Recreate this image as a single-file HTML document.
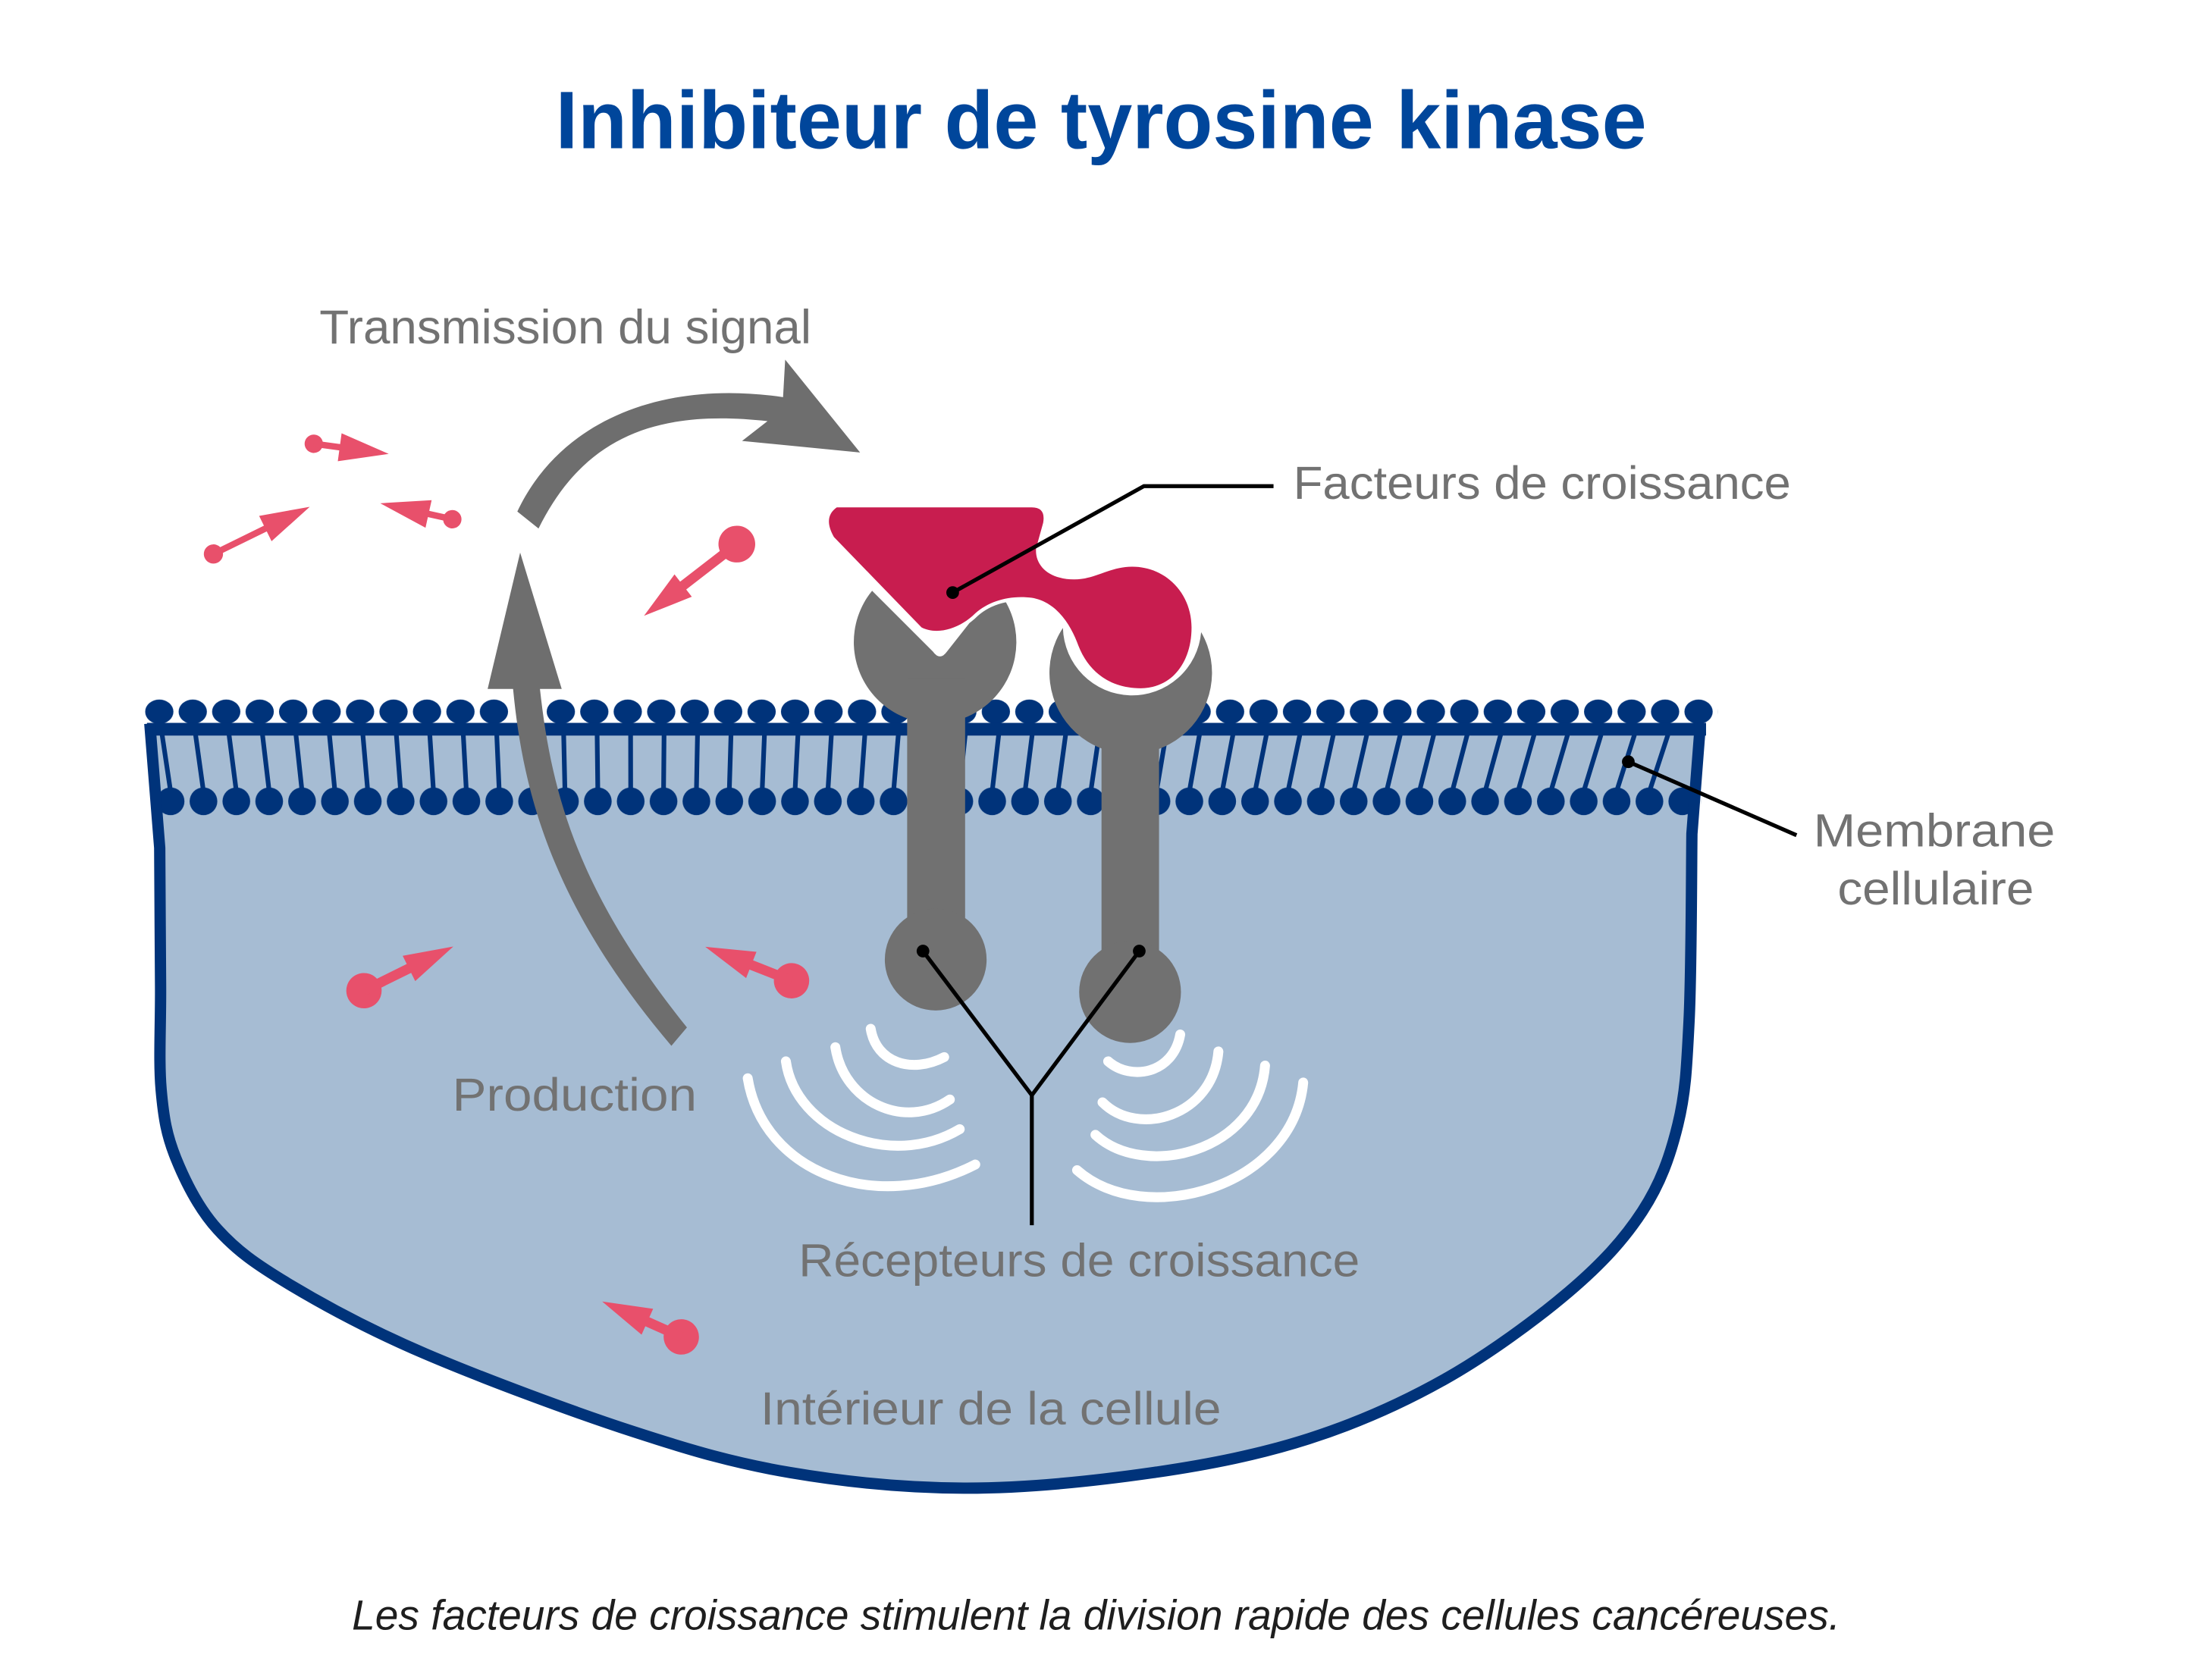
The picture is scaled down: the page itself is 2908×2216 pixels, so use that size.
<!DOCTYPE html>
<html><head><meta charset="utf-8"><style>html,body{margin:0;padding:0;background:#fff}svg{display:block}</style></head>
<body>
<svg xmlns="http://www.w3.org/2000/svg" width="2908" height="2216" viewBox="0 0 1560 1188.77" preserveAspectRatio="none">
<defs>
<pattern id="th" patternUnits="userSpaceOnUse" x="102.7" y="495" width="23.674" height="17.2"><ellipse cx="10" cy="8.6" rx="10" ry="8.6" fill="#00337a"/></pattern>
<pattern id="bh" patternUnits="userSpaceOnUse" x="110.9" y="557" width="23.25" height="20"><circle cx="9.8" cy="10" r="9.8" fill="#00337a"/></pattern>
</defs>
<rect width="1560" height="1188.77" fill="#fff"/>
<path d="M106,512 L113,600 C113.1,616.2 113.4,668.5 113.6,697 C113.8,725.5 112.2,750.5 114,771 C115.8,791.5 117.9,803.5 124.6,820 C131.3,836.5 140.6,855.2 154,870 C167.4,884.8 180.5,894.3 205,909 C229.5,923.7 260.5,940.7 301,958 C341.5,975.3 405,999 448,1013 C491,1027 519.7,1035.3 559,1042 C598.3,1048.7 641.2,1053 684,1053 C726.8,1053 775.7,1047.8 816,1042 C856.3,1036.2 891.7,1029 926,1018 C960.3,1007 991.3,993.3 1022,976 C1052.7,958.7 1086.7,933.8 1110,914 C1133.3,894.2 1149.2,876.7 1162,857 C1174.8,837.3 1181.5,818.5 1187,796 C1192.5,773.5 1193.3,756.3 1195,722 C1196.7,687.7 1196.7,612 1197,590 L1203,512 Z" fill="#a6bcd3"/>
<path d="M114.7,520L120.7,560M138.37,520L143.95,560M162.05,520L167.2,560M185.72,520L190.45,560M209.4,520L213.7,560M233.07,520L236.95,560M256.74,520L260.2,560M280.42,520L283.45,560M304.09,520L306.7,560M327.77,520L329.95,560M351.44,520L353.2,560M375.11,520L376.45,560M398.79,520L399.7,560M422.46,520L422.95,560M446.14,520L446.2,560M469.81,520L469.45,560M493.48,520L492.7,560M517.16,520L515.95,560M540.83,520L539.2,560M564.51,520L562.45,560M588.18,520L585.7,560M611.85,520L608.95,560M635.53,520L632.2,560M659.2,520L655.45,560M682.88,520L678.7,560M706.55,520L701.95,560M730.22,520L725.2,560M753.9,520L748.45,560M777.57,520L771.7,560M801.25,520L794.95,560M824.92,520L818.2,560M848.59,520L841.45,560M872.27,520L864.7,560M895.94,520L887.95,560M919.62,520L911.2,560M943.29,520L934.45,560M966.96,520L957.7,560M990.64,520L980.95,560M1014.31,520L1004.2,560M1037.99,520L1027.45,560M1061.66,520L1050.7,560M1085.33,520L1073.95,560M1109.01,520L1097.2,560M1132.68,520L1120.45,560M1156.36,520L1143.7,560M1180.03,520L1166.95,560" stroke="#00337a" stroke-width="3.3" fill="none"/>
<rect x="102.7" y="495" width="1112.7" height="17.2" fill="url(#th)"/>
<rect x="362" y="493" width="23" height="19" fill="#fff"/>
<rect x="104" y="511.5" width="1103" height="9" fill="#00337a"/>
<rect x="110.9" y="557" width="1092.75" height="20" fill="url(#bh)"/>
<path d="M106,512 L113,600 C113.1,616.2 113.4,668.5 113.6,697 C113.8,725.5 112.2,750.5 114,771 C115.8,791.5 117.9,803.5 124.6,820 C131.3,836.5 140.6,855.2 154,870 C167.4,884.8 180.5,894.3 205,909 C229.5,923.7 260.5,940.7 301,958 C341.5,975.3 405,999 448,1013 C491,1027 519.7,1035.3 559,1042 C598.3,1048.7 641.2,1053 684,1053 C726.8,1053 775.7,1047.8 816,1042 C856.3,1036.2 891.7,1029 926,1018 C960.3,1007 991.3,993.3 1022,976 C1052.7,958.7 1086.7,933.8 1110,914 C1133.3,894.2 1149.2,876.7 1162,857 C1174.8,837.3 1181.5,818.5 1187,796 C1192.5,773.5 1193.3,756.3 1195,722 C1196.7,687.7 1196.7,612 1197,590 L1203,512" fill="none" stroke="#00337a" stroke-width="8" stroke-linejoin="round"/>

<g fill="none" stroke="#fff" stroke-width="7" stroke-linecap="round">
<path d="M616,728 C620,752 645,760 668,748"/>
<path d="M591,741 C597,780 640,800 672,778"/>
<path d="M556,751 C563,800 630,828 679,799"/>
<path d="M529,763 C540,830 620,860 690,824"/>
<path d="M835,732 C830,760 800,765 784,751"/>
<path d="M862,744 C858,790 805,805 780,780"/>
<path d="M895,754 C890,815 810,835 775,803"/>
<path d="M922,766 C915,840 810,870 762,828"/>
</g>

<g fill="#e8506b">
<g transform="translate(222,314) rotate(7.7)"><circle r="6.5"/><rect x="0" y="-2.25" width="19" height="4.5"/><polygon points="18.5,-10 53.5,0 18.5,10"/></g>
<g transform="translate(151,392) rotate(-26.1)"><circle r="6.8"/><rect x="0" y="-2.25" width="41.5" height="4.5"/><polygon points="40.9,-10 75.9,0 40.9,10"/></g>
<g transform="translate(320,367.4) rotate(-167.5)"><circle r="6.5"/><rect x="0" y="-2.25" width="18" height="4.5"/><polygon points="17.2,-10 52.2,0 17.2,10"/></g>
<g transform="translate(521.3,385) rotate(142.3)"><circle r="13"/><rect x="0" y="-3.5" width="49" height="7"/><polygon points="48,-10 83,0 48,10"/></g>
<g transform="translate(257.5,701) rotate(-26.3)"><circle r="12.5"/><rect x="0" y="-3.5" width="36" height="7"/><polygon points="35.5,-10 70.5,0 35.5,10"/></g>
<g transform="translate(560,694) rotate(-158.5)"><circle r="12.5"/><rect x="0" y="-3.5" width="31" height="7"/><polygon points="30.6,-10 65.6,0 30.6,10"/></g>
<g transform="translate(482,946) rotate(-155.9)"><circle r="12.5"/><rect x="0" y="-3.5" width="27" height="7"/><polygon points="26.3,-10 61.3,0 26.3,10"/></g>
</g>

<path d="M345,487.5 L368,391 L397.4,487.5 L382,487.5 C390,560 408,630 486,727 L475,740 C390,640 370,560 363,487.5 Z" fill="#6e6e6e"/>

<g fill="#717171">
<path d="M617,418 L660,461 Q665,468 670,461 L696,428 Q703,421 711,425 A57.5,57.5 0 1 1 617,418 Z"/>
<rect x="641.8" y="480" width="41" height="190"/>
<circle cx="662" cy="679" r="36"/>
<path d="M752,444.3 A57.5,57.5 0 1 0 849.8,447.3 A49,49 0 0 1 752,444.3 Z"/>
<rect x="779.3" y="500" width="40.7" height="200"/>
<circle cx="799.5" cy="702" r="36"/>
</g>

<path d="M592,359 L730,359 Q740,359 738,370 L733,388 C732,400 742,410 760,410 C775,410 785,401 801,401 C825,401 843,420 843,444 C843,470 828,487 807,487 C785,487 770,475 763,457 C758,443 748,426 730,423 C715,421 700,425 690,434 C680,444 664,450 652,444 L590,380 Q582,366 592,359 Z" fill="#c81d4f" stroke="#fff" stroke-width="5" paint-order="stroke" stroke-linejoin="round"/>

<g stroke="#000" stroke-width="2.8" fill="none">
<polyline points="674,419.3 809.3,344 901,344"/>
<line x1="1152" y1="539" x2="1271" y2="591"/>
<polyline points="653,673 730,775 806,673"/>
<line x1="730" y1="775" x2="730" y2="867"/>
</g>
<g fill="#000">
<circle cx="674" cy="419.3" r="4.5"/>
<circle cx="1152" cy="539" r="4.5"/>
<circle cx="653" cy="673" r="4.5"/>
<circle cx="806" cy="673" r="4.5"/>
</g>

<path d="M366,362 C395,300 465,268 554,281 L555.5,254.5 L608.5,320.2 L525,312 L543,298 C470,290 415,305 381,374 Z" fill="#6e6e6e"/>

<g font-family="'Liberation Sans', sans-serif" fill="#727272" font-size="33">
<text x="226" y="243" font-size="34" textLength="348" lengthAdjust="spacingAndGlyphs">Transmission du signal</text>
<text x="915" y="353" textLength="352" lengthAdjust="spacingAndGlyphs">Facteurs de croissance</text>
<text x="1283" y="599" textLength="171" lengthAdjust="spacingAndGlyphs">Membrane</text>
<text x="1300" y="640" textLength="139" lengthAdjust="spacingAndGlyphs">cellulaire</text>
<text x="320" y="786" textLength="173" lengthAdjust="spacingAndGlyphs">Production</text>
<text x="565" y="903" textLength="397" lengthAdjust="spacingAndGlyphs">Récepteurs de croissance</text>
<text x="538" y="1008" textLength="326" lengthAdjust="spacingAndGlyphs">Intérieur de la cellule</text>
</g>
<text x="393" y="105" font-family="'Liberation Sans', sans-serif" font-weight="bold" font-size="58" fill="#00469b" textLength="772" lengthAdjust="spacingAndGlyphs">Inhibiteur de tyrosine kinase</text>
<text x="249" y="1153" font-family="'Liberation Sans', sans-serif" font-style="italic" font-size="30" fill="#1e1e1e" textLength="1053" lengthAdjust="spacingAndGlyphs">Les facteurs de croissance stimulent la division rapide des cellules cancéreuses.</text>
</svg>
</body></html>
